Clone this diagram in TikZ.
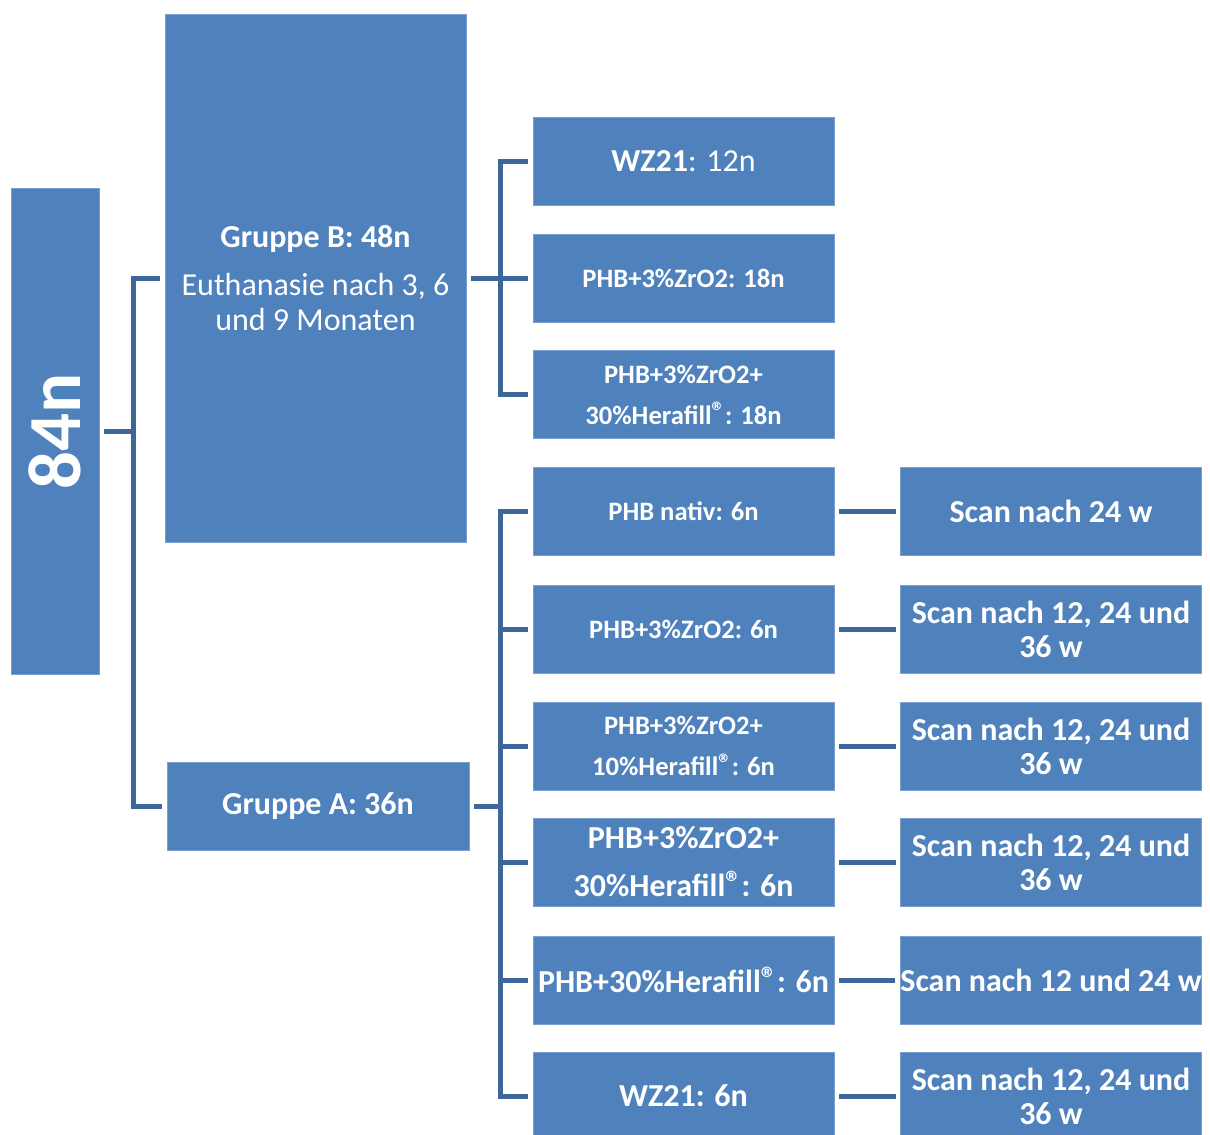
\documentclass[tikz,border=0pt]{standalone}
\usepackage{fontspec}
\setmainfont{Carlito}
\usepackage{xcolor}
\usepackage{tikz}
\definecolor{boxblue}{HTML}{4F81BD}
\definecolor{linkblue}{HTML}{3E6698}
\newcommand{\regmark}{\raisebox{0.12em}{®}}

\begin{document}
\begin{tikzpicture}[
  x=1pt,y=-1pt,
  box/.style={fill=boxblue,draw=boxblue!75!white,line width=0.8pt,text=white,
    align=center,inner sep=0pt,outer xsep=5pt,minimum width=301pt,minimum height=88pt},
  big/.style={font=\fontsize{32}{48}\selectfont\bfseries},
  small/.style={font=\fontsize{26.6}{41}\selectfont\bfseries},
  scan/.style={box,font=\fontsize{32}{34}\selectfont\bfseries},
  link/.style={draw=linkblue,line width=5pt}
]
\useasboundingbox (0,0) rectangle (1210,1135);
\clip (0,0) rectangle (1210,1135);
\node[box,minimum width=88pt,minimum height=486pt] (total) at (55,431)
  {\rotatebox{90}{\fontsize{75}{75}\selectfont\bfseries 84n}};
\node[box,minimum height=528pt,font=\fontsize{32}{35}\selectfont] (grpB) at (315.5,278)
  {\textbf{Gruppe B: 48n}\\[13pt]Euthanasie nach 3, 6\\und 9 Monaten};
\node[box,big,minimum width=302pt] (grpA) at (318,806) {Gruppe A: 36n};
\node[box,big] (b1) at (683.5,161.5) {WZ21\mdseries: 12n};
\node[box,small] (b2) at (683.5,278) {PHB+3\%ZrO2: 18n};
\node[box,small] (b3) at (683.5,394.5) {PHB+3\%ZrO2+\\30\%Herafill\regmark: 18n};
\node[box,small] (a1) at (683.5,511.5) {PHB nativ: 6n};
\node[box,small] (a2) at (683.5,629) {PHB+3\%ZrO2: 6n};
\node[box,small] (a3) at (683.5,746) {PHB+3\%ZrO2+\\10\%Herafill\regmark: 6n};
\node[box,big] (a4) at (683.5,862) {PHB+3\%ZrO2+\\30\%Herafill\regmark: 6n};
\node[box,big] (a5) at (683.5,980) {PHB+30\%Herafill\regmark: 6n};
\node[box,big] (a6) at (683.5,1096) {WZ21: 6n};
\node[scan] (s1) at (1051,511.5) {Scan nach 24 w};
\node[scan] (s2) at (1051,629) {Scan nach 12, 24 und\\36 w};
\node[scan] (s3) at (1051,746) {Scan nach 12, 24 und\\36 w};
\node[scan] (s4) at (1051,862) {Scan nach 12, 24 und\\36 w};
\node[scan] (s5) at (1051,980) {Scan nach 12 und 24 w};
\node[scan] (s6) at (1051,1096) {Scan nach 12, 24 und\\36 w};
\coordinate (splitT) at (133,431);
\coordinate (splitB) at (500,278);
\coordinate (splitA) at (500,806);
\draw[link] (total.east) -- (splitT);
\draw[link] (grpB.west) -| (splitT) |- (grpA.west);
\draw[link] (grpB.east) -- (splitB);
\draw[link] (b1.west) -| (splitB) |- (b3.west);
\draw[link] (splitB) -- (b2.west);
\draw[link] (grpA.east) -- (splitA);
\draw[link] (a1.west) -| (splitA) |- (a6.west);
\foreach \i in {2,...,5}
  \draw[link] (splitA |- a\i.west) -- (a\i.west);
\foreach \i in {1,...,6}
  \draw[link] (a\i.east) -- (s\i.west);
\end{tikzpicture}
\end{document}
